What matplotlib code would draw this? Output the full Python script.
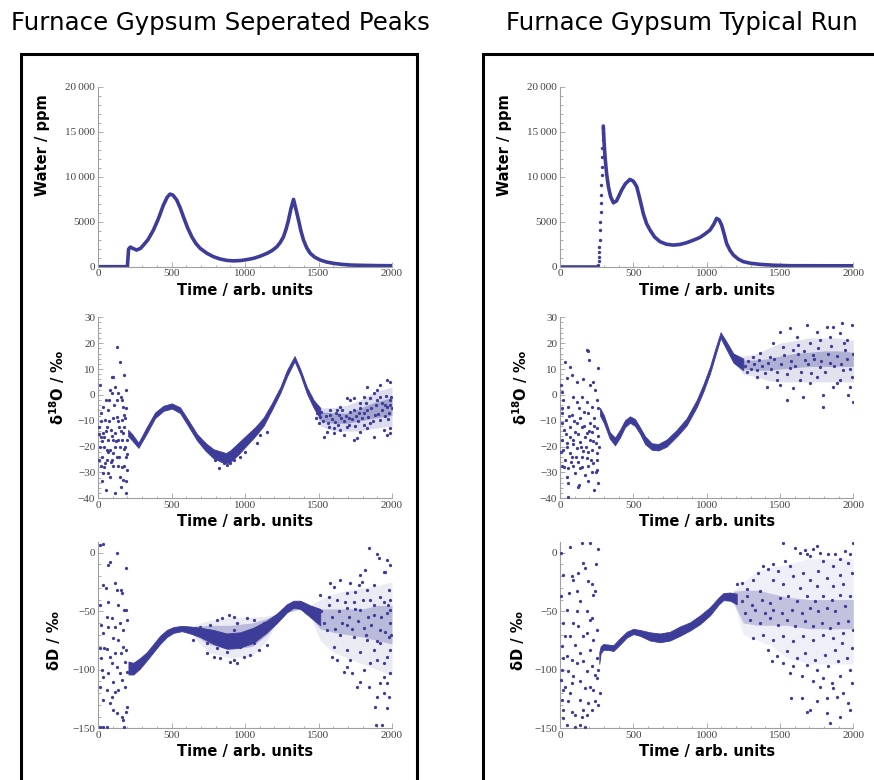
import matplotlib
matplotlib.use('Agg')
import matplotlib.pyplot as plt
from matplotlib.patches import Rectangle
from matplotlib.ticker import MultipleLocator, FuncFormatter

plt.rcParams['font.family'] = ['Liberation Serif', 'DejaVu Serif']
plt.rcParams['mathtext.fontset'] = 'dejavusans'

DOT = '#3d3d99'
AXC = '#a0a0a0'
TXT = '#444444'

titles = ["Furnace Gypsum Seperated Peaks", "Furnace Gypsum Typical Run"]
xlabel = "Time / arb. units"
ylabels = ["Water / ppm", "δ$^{\\mathbf{18}}$O / ‰", "δD / ‰"]

# ---------------- Water, separated peaks (line) ----------------
water_sep_t = [0, 200, 208, 220, 235, 263, 290, 309, 340, 377, 410, 445, 470, 490, 510,
               536, 560, 581, 610, 638, 665, 695, 740, 785, 830, 876, 920, 967, 1010,
               1058, 1100, 1149, 1185, 1217, 1240, 1262, 1280, 1296, 1312, 1330, 1345,
               1364, 1380, 1398, 1420, 1444, 1475, 1512, 1555, 1603, 1660, 1716, 1800,
               1900, 2000]
water_sep_v = [0, 0, 1950, 2180, 2050, 1850, 2050, 2400, 3000, 4070, 5300, 6850, 7700,
               8070, 7950, 7400, 6500, 5550, 4300, 3330, 2600, 2040, 1500, 1110, 860,
               700, 650, 680, 780, 930, 1150, 1480, 1800, 2220, 2700, 3330, 4200, 5190,
               6400, 7480, 6500, 5190, 4000, 2960, 2100, 1480, 1050, 740, 520, 370, 260,
               185, 150, 120, 110]

# ---------------- Water, typical run ----------------
water_typ_t = [0, 261]
water_typ_v = [0, 0]
water_rise_t = [262, 264, 266, 268, 269, 271, 273, 275, 277, 279, 280, 282, 284, 286,
                288, 289, 291, 293, 294]
water_rise_v = [185, 630, 1110, 1670, 2220, 2960, 4070, 5000, 6110, 7040, 7960, 9070,
                10190, 11110, 12220, 13150, 14070, 14810, 15370]
water_typ2_t = [295, 300, 307, 318, 330, 345, 364, 385, 400, 420, 445, 477, 500, 523,
                545, 568, 590, 614, 645, 682, 725, 773, 820, 864, 910, 955, 990, 1023,
                1048, 1068, 1085, 1102, 1120, 1136, 1160, 1182, 1215, 1250, 1300, 1364,
                1450, 1568, 1800, 2000]
water_typ2_v = [15630, 14000, 12200, 10300, 8900, 7800, 7100, 7300, 7800, 8500, 9200,
                9700, 9500, 8900, 7500, 5900, 4800, 4070, 3300, 2780, 2500, 2400, 2480,
                2670, 2950, 3260, 3650, 4070, 4700, 5370, 5200, 4630, 3600, 2590, 1800,
                1300, 850, 560, 380, 260, 170, 110, 100, 100]

# ---------------- d18O, separated peaks ----------------
o18_sep_band_t = [205, 230, 275, 331, 388, 445, 502, 558, 615, 672, 729, 785, 842, 870,
                  899, 956, 1012, 1069, 1126, 1183, 1240, 1285, 1337, 1376, 1421, 1467, 1512]
o18_sep_band_lo = [-16, -17.5, -20.5, -15, -9, -6.2, -5.3, -7, -12.2, -17.5, -21.5, -24.5,
                   -26, -26.5, -26, -23, -19.5, -16, -12, -5.8, 0.7, 7, 13, 7.8, 0.5, -5, -9]
o18_sep_band_hi = [-13.5, -15, -18.5, -12.5, -6.8, -4.2, -3.3, -4.8, -9.8, -15, -18.5, -21,
                   -22, -22.5, -21.5, -18.5, -15.5, -12.5, -8.8, -3.2, 3, 9.5, 15, 10, 3,
                   -2, -5]
o18_sep_cloud_t = [1467, 1512, 1603, 1694, 1785, 1876, 2000]
o18_sep_cloud_lo = [-5, -10, -11, -11, -10, -9, -8]
o18_sep_cloud_hi = [-2, -6.5, -7, -7, -5, -3, -1]
o18_sep_halo_lo = [-5, -12, -14, -14, -14, -13, -12]
o18_sep_halo_hi = [-2, -5, -5, -4, -2, 1, 3]
o18_sep_pts = [
    (14, 3.8), (20, -7.1), (9, -12.3), (14, -20), (25, -23.9), (18, -27.7), (27, -33.5),
    (54, -36.8), (36, -30.3), (48, -26.5), (41, -16.1), (59, -12.3), (70, -5.8), (82, 1.9),
    (77, -2), (93, 6.8), (104, 6.8), (116, 3.2), (132, 18.7), (150, 12.9), (179, 7.7),
    (191, 1.9), (138, 0.6), (127, -2), (154, -0.7), (168, -4.5), (177, -7.8), (161, -9.7),
    (104, -9.1), (86, -13.6), (116, -14.9), (138, -17.4), (150, -20), (172, -14.9),
    (195, -17.4), (184, -20), (191, -23.9), (177, -27.7), (195, -29), (172, -32.9),
    (191, -33.5), (191, -38), (116, -38), (70, -30.3), (82, -31.6), (93, -25.2),
    (104, -22.6), (127, -23.9), (138, -27.7), (150, -31.6), (154, -35.5), (59, -21.3),
    (70, -17.4), (48, -9.7), (32, -4.5), (54, -2), (93, 0.6), (161, -2), (177, -12.3),
    (116, -20), (82, -21.3), (36, -14.9), (161, -17.4), (143, -12.3), (127, -8.4),
    (100, -17.4), (64, -25.2), (104, -27.7), (41, -20), (18, -16.1),
    (5, -15), (10, -25), (22, -10), (30, -18), (44, -28), (52, -14), (66, -22), (75, -10),
    (88, -26), (96, -16), (110, -4), (122, -18), (135, -10), (145, -24), (157, -14),
    (165, -28), (175, -21), (185, -9), (198, -23), (188, -5),
    (820, -28.4), (854, -26.5), (899, -26.5), (922, -25.2), (797, -25.2), (967, -23.9),
    (1081, -18.7), (1103, -15.5), (718, -18.7), (876, -27.1), (1001, -22), (1149, -14.2),
    (1830, 3.2), (1966, 5.8), (1989, 5.1), (1920, 3.8), (1898, 1.9), (1876, 0.6),
    (1808, -0.7), (1739, -1.3), (1716, -2), (1694, -1.3), (1648, -4.5), (1626, -5.8),
    (1603, -14.9), (1557, -14.2), (1535, -16.1), (1739, -17.4), (1762, -16.8),
    (1876, -16.1), (1966, -15.5), (1989, -14.9), (1989, -12.9), (1943, -13.6),
    (1671, -15.5), (1785, -14.2), (1830, -12.9), (1853, -11), (1920, -9.7), (1978, -7.1),
    (1989, -2), (1955, -3.9), (1898, -2), (1853, -1.3), (1785, -3.3), (1739, -5.8),
    (1580, -7.8), (1512, -8.4), (1490, -7.1), (1569, -12.3), (1603, -12.9), (1648, -13.6),
    (1694, -12.3), (1808, -11.6), (1885, -7.8), (1932, -5.8), (1966, -4.5), (2000, -5.2),
    (1830, -5.8), (1773, -7.1), (1637, -7.8), (1705, -9.1),
    (1480, -9), (1500, -11), (1520, -6.5), (1530, -10), (1550, -8), (1565, -11),
    (1575, -6), (1590, -9.5), (1610, -10.5), (1620, -7), (1635, -11.5), (1650, -9),
    (1660, -6), (1675, -10), (1690, -8), (1705, -11.5), (1715, -6.5), (1730, -9.5),
    (1745, -12), (1755, -8), (1770, -10), (1780, -5), (1795, -9), (1810, -7), (1820, -3),
    (1840, -8.5), (1860, -5), (1870, -10), (1890, -4), (1905, -7.5), (1915, -1),
    (1935, -3), (1950, -8), (1960, -0.5), (1975, -9.5), (1985, -4), (1995, -1),
]

# ---------------- d18O, typical run ----------------
o18_typ_band_t = [273, 300, 340, 375, 409, 443, 477, 511, 545, 580, 625, 670, 727, 795,
                  864, 932, 977, 1023, 1057, 1095, 1136, 1182, 1250]
o18_typ_band_lo = [-8, -11, -17, -19.5, -16.5, -12.5, -10.8, -12, -15, -19, -21.2, -21.5,
                   -20, -16.2, -11.8, -4.8, 1.2, 8.3, 14.8, 22, 17.5, 12.5, 9.5]
o18_typ_band_hi = [-5, -8, -14.5, -16.5, -13.5, -9.8, -8.3, -9.3, -12.5, -16, -18.7, -19,
                   -17.3, -13.6, -9, -2, 4, 11, 17.5, 24.2, 20.5, 16, 14]
o18_typ_cloud_t = [1182, 1250, 1341, 1420, 1500, 1600, 1700, 1800, 1900, 2000]
o18_typ_cloud_lo = [12.5, 10, 9.5, 9.5, 10, 10.5, 11, 11, 11, 11]
o18_typ_cloud_hi = [16, 13.5, 13.5, 14, 15, 16, 16.5, 17, 17, 16.5]
o18_typ_halo_lo = [12.5, 8, 7, 5.5, 5, 5, 5, 5, 5, 5]
o18_typ_halo_hi = [16, 15, 16, 18, 20, 21, 22, 22, 22, 21]
o18_typ_pts = [
    (5, 3.8), (11, 1.3), (34, 12.9), (68, 10.9), (45, 6.4), (114, 5.1), (80, 7.7),
    (182, 17.4), (193, 16.8), (200, 13.5), (159, 6), (227, 5.1), (261, 10.3), (239, 1.9),
    (205, 3.8), (148, -0.7), (91, -0.7), (23, -2), (57, -4.5), (114, -2.6), (182, -2.6),
    (216, -4.5), (250, -2), (261, -5.2), (11, -7.1), (41, -9.7), (80, -7.8), (136, -9.1),
    (193, -7.1), (232, -9.1), (27, -13.6), (68, -12.3), (102, -14.2), (148, -12.3),
    (182, -14.9), (216, -14.2), (250, -12.9), (11, -17.4), (45, -18.7), (91, -17.4),
    (136, -18.1), (170, -16.1), (205, -17.4), (245, -18.7), (23, -21.3), (68, -22.6),
    (114, -20.7), (159, -21.9), (216, -21.3), (34, -25.2), (80, -23.9), (125, -25.8),
    (182, -24.5), (227, -26.5), (11, -27.7), (57, -28.4), (136, -28.4), (193, -27.7),
    (250, -29), (45, -31.6), (102, -30.3), (170, -31), (216, -29.7), (57, -34.2),
    (132, -34.8), (193, -33.5), (261, -34.2), (232, -36.8), (57, -39.6), (125, -35.5),
    (91, -27.7), (148, -23.9), (68, -16.1), (118, -11), (205, -11), (164, -6.5), (11, -11),
    (250, -22.6), (255, -25.2),
    (8, -22), (16, -5), (30, -28), (38, -15), (50, -20), (62, -8), (74, -26), (86, -19),
    (98, -10), (108, -24), (120, -15), (130, -5), (142, -20), (153, -28), (165, -12),
    (176, -20), (188, -22), (198, -14), (210, -25), (222, -18), (234, -12), (244, -30),
    (256, -16), (266, -20),
    (1500, 24.5), (1568, 25.7), (1682, 27), (1864, 26.4), (1920, 27.7), (1818, 26.4),
    (1989, 27), (1750, 24.5), (1614, 22.5), (1909, 23.8), (1773, 21.2), (1545, -2),
    (1659, -0.7), (1795, 0), (1795, -4.5), (2000, -2.6), (1966, 0), (1364, 16.1),
    (1455, 19.9), (1591, 17.4), (1409, 3.2), (1500, 3.8), (1591, 2.5), (1705, 4.5),
    (1864, 3.2), (1977, 3.2), (1886, 4.5), (1750, 7), (1636, 5.8), (1477, 5.8), (1341, 7),
    (1273, 9), (1318, 14.8), (1432, 14.8), (1523, 18.7), (1705, 19.9), (1841, 22.5),
    (1955, 21.2), (1943, 17.4), (1670, 13.5), (1841, 12.2), (1773, 10.9), (1568, 10.3),
    (1932, 9.6), (1909, 5.8), (1989, 7), (1727, 15.4), (1625, 19.3),
    (1260, 11), (1280, 13), (1300, 10), (1320, 12), (1345, 9.5), (1360, 13.5), (1380, 11),
    (1400, 8.5), (1415, 12.5), (1440, 10), (1460, 14), (1480, 9), (1510, 12),
    (1530, 15.5), (1550, 8), (1575, 13), (1600, 11), (1620, 16), (1645, 9), (1665, 17),
    (1690, 12), (1710, 8.5), (1735, 14), (1760, 18), (1780, 13), (1805, 9), (1825, 16),
    (1850, 19), (1870, 11), (1890, 15), (1915, 12), (1935, 20), (1960, 14), (1980, 10),
    (1995, 16),
]

# ---------------- dD, separated peaks ----------------
dd_sep_band_t = [207, 241, 286, 332, 377, 422, 468, 513, 570, 627, 695, 786, 876, 967,
                 1058, 1149, 1217, 1285, 1330, 1376, 1444, 1512]
dd_sep_band_lo = [-104, -104, -99, -92, -85, -78, -72, -68.5, -67, -69, -72, -78, -82, -81,
                  -77, -68, -60, -51, -47, -48, -55, -62]
dd_sep_band_hi = [-93, -94, -90, -85, -78, -71, -66, -63.5, -62.5, -63, -64, -66, -69, -68,
                  -64, -58, -52, -44, -41, -41, -45, -48]
dd_sep_cloud_t = [650, 750, 900, 1050, 1150, 1217, 1285, 1376, 1444, 1512, 1600, 1700,
                  1800, 1900, 2000]
dd_sep_cloud_lo = [-70, -78, -83, -80, -70, -60, -51, -48, -55, -65, -68, -70, -72, -75, -78]
dd_sep_cloud_hi = [-63, -62, -62, -60, -56, -52, -44, -41, -45, -48, -48, -48, -48, -45, -45]
dd_sep_halo_lo = [-72, -85, -90, -88, -75, -60, -51, -48, -55, -75, -85, -90, -95, -100,
                  -105]
dd_sep_halo_hi = [-62, -58, -55, -55, -54, -52, -44, -41, -45, -40, -35, -32, -30, -28, -25]
dd_sep_pts = [
    (14, 6.5), (32, 7.4), (70, -10.5), (82, -7.7), (132, 0), (191, -13.4), (36, -27.6),
    (54, -30.5), (116, -26.2), (127, -31.9), (154, -31.9), (161, -34.7), (70, -41.8),
    (14, -44.7), (138, -44.7), (177, -49), (191, -49), (59, -54.6), (93, -56.1),
    (150, -60.3), (195, -57.5), (18, -61.8), (116, -63.2), (70, -63.2), (168, -66),
    (36, -68.9), (104, -73.1), (138, -74.6), (14, -81.7), (43, -81.7), (63, -82.5),
    (172, -80.3), (191, -83.1), (154, -85.9), (18, -90.2), (82, -88.8), (116, -85.9),
    (184, -93.1), (25, -100.2), (93, -94.5), (127, -97.3), (150, -103), (195, -101.6),
    (36, -105.9), (70, -103), (104, -110.1), (161, -108.7), (14, -114.4), (59, -117.3),
    (116, -118.7), (138, -117.3), (184, -114.4), (36, -125.8), (82, -128.6), (104, -134.3),
    (127, -137.2), (161, -140), (172, -142.9), (191, -135.8), (14, -148.6), (36, -149.1),
    (63, -149.1), (177, -148.6), (195, -131.5), (93, -122.9),
    (809, -57.5), (843, -56.1), (888, -53.2), (922, -54.6), (1012, -56.1), (945, -60.3),
    (763, -61.8), (695, -63.2), (1126, -60.3), (1058, -57.5), (740, -85.9), (786, -88.8),
    (831, -90.2), (922, -91.6), (945, -94.5), (899, -93.1), (990, -88.8), (1035, -87.4),
    (1092, -83.1), (1149, -78.8), (876, -84.5), (740, -77.4), (649, -74.6), (967, -80.3),
    (809, -81.7), (922, -66), (1012, -68.9), (1058, -77.4), (899, -76),
    (1841, 3.7), (1898, -1.1), (1910, -4.8), (1966, -6.3), (1989, -10.5), (1943, -16.2),
    (1955, -16.2), (1818, -14.8), (1780, -19.1), (1580, -26.2), (1648, -23.3),
    (1716, -26.2), (1773, -27.6), (1876, -27.6), (1750, -33.3), (1512, -36.1),
    (1603, -29), (1694, -34.7), (1830, -31.9), (1978, -31.9), (1920, -37.6), (1569, -37.6),
    (1989, -40.4), (1989, -49), (1989, -60.3), (1978, -71.7), (1989, -83.1), (1966, -88.8),
    (1989, -103), (1943, -105.9), (1920, -111.6), (1966, -111.6), (1978, -122.9),
    (1943, -120.1), (1898, -122.9), (1887, -131.5), (1966, -132.9), (1892, -147.1),
    (1932, -147.1), (1841, -114.4), (1785, -110.1), (1762, -114.4), (1694, -97.3),
    (1671, -101.6), (1728, -103), (1808, -100.2), (1592, -88.8), (1626, -91.6),
    (1716, -91.6), (1853, -94.5), (1898, -91.6), (1943, -94.5), (1603, -80.3),
    (1694, -83.1), (1785, -84.5), (1876, -83.1), (1920, -77.4), (1830, -74.6),
    (1739, -71.7), (1648, -70.3), (1557, -66), (1920, -66), (1808, -64.6), (1694, -61.8),
    (1966, -51.8), (1876, -53.2), (1785, -49), (1694, -47.5), (1943, -41.8), (1853, -40.4),
    (1739, -41.8), (1626, -40.4), (1796, -24.8),
    (1480, -55), (1520, -50), (1540, -60), (1570, -45), (1590, -55), (1615, -65),
    (1640, -50), (1660, -60), (1680, -42), (1710, -55), (1730, -65), (1750, -48),
    (1770, -58), (1800, -40), (1820, -70), (1840, -55), (1860, -62), (1880, -45),
    (1900, -75), (1925, -55), (1950, -68), (1970, -45), (1990, -70),
]

# ---------------- dD, typical run ----------------
dd_typ_band_t = [268, 277, 295, 330, 364, 409, 455, 500, 545, 614, 682, 750, 818, 886,
                 955, 1023, 1080, 1114, 1159, 1205]
dd_typ_band_lo = [-95, -86, -83, -83, -84, -78.5, -72.5, -69.5, -71, -75, -76.5, -75, -71,
                  -66.5, -61, -53.5, -44.5, -40.5, -41, -44]
dd_typ_band_hi = [-85, -80, -78, -78.5, -79, -73, -67.5, -65, -66, -68, -69, -67.5, -63,
                  -59.5, -53.5, -46.5, -38.5, -34.5, -34, -35]
dd_typ_cloud_t = [1180, 1250, 1350, 1450, 1550, 1700, 1850, 2000]
dd_typ_cloud_lo = [-42, -60, -62, -62, -62, -65, -65, -65]
dd_typ_cloud_hi = [-33, -32, -32, -35, -38, -40, -40, -40]
dd_typ_halo_lo = [-42, -70, -75, -80, -90, -95, -95, -95]
dd_typ_halo_hi = [-33, -25, -15, -12, -10, -5, -5, -5]
dd_typ_pts = [
    (5, 0), (68, 5.1), (148, 8.6), (205, 8.6), (261, 2.9), (245, -10), (159, -8.6),
    (170, -12.9), (23, -18.6), (80, -20), (91, -22.9), (125, -17.1), (193, -24.3),
    (216, -27.1), (239, -32.9), (227, -35.7), (5, -37.1), (61, -34.3), (114, -32.9),
    (136, -41.4), (45, -48.6), (114, -50), (182, -50), (216, -55.7), (205, -57.1),
    (250, -65.7), (125, -62.9), (91, -60), (23, -60), (34, -71.4), (68, -71.4),
    (159, -71.4), (182, -68.6), (227, -74.3), (11, -80), (45, -88.6), (102, -78.6),
    (136, -85.7), (205, -82.9), (250, -90), (18, -90), (80, -91.4), (114, -94.3),
    (159, -92.9), (216, -97.1), (11, -100), (57, -101.4), (91, -105.7), (182, -101.4),
    (239, -104.3), (261, -100), (5, -108.6), (34, -114.3), (80, -111.4), (136, -110),
    (205, -114.3), (250, -107.1), (18, -117.1), (68, -120), (170, -115.7), (227, -117.1),
    (11, -125.7), (57, -127.1), (136, -125.7), (193, -128.6), (239, -127.1), (261, -130),
    (23, -134.3), (80, -135.7), (159, -134.3), (216, -134.3), (18, -141.4), (102, -138.6),
    (148, -140), (182, -138.6), (45, -147.1), (102, -148.6), (136, -147.1), (170, -149.1),
    (273, -120),
    (1205, -27.1), (1239, -25.7), (1273, -31.4), (1318, -22.9), (1352, -17.1),
    (1386, -11.4), (1420, -14.3), (1455, -10), (1489, -15.7), (1523, 8), (1534, -7.1),
    (1568, -11.4), (1602, 4.3), (1636, 0), (1670, 2.3), (1682, -1.4), (1705, -2.9),
    (1727, 2.9), (1750, 5.7), (1773, 0), (1795, -7.1), (1830, -1.4), (1875, -1.4),
    (1909, -5.7), (1943, 1.4), (1977, -1.4), (1995, 8.6), (1966, -8.6), (1864, -11.4),
    (1761, -15.7), (1659, -17.1), (1591, -20), (1455, -22.9), (1705, -22.9),
    (1818, -21.4), (1909, -18.6), (1989, -17.1), (1932, -27.1), (1864, -28.6),
    (1750, -28.6), (1636, -30), (1523, -27.1), (1364, -32.9), (1273, -37.1),
    (1239, -41.4), (1307, -44.3), (1375, -40), (1432, -42.9), (1500, -38.6),
    (1557, -37.1), (1614, -41.4), (1682, -37.1), (1739, -41.4), (1795, -37.1),
    (1852, -40), (1909, -35.7), (1977, -37.1), (1943, -45.7), (1875, -50), (1818, -47.1),
    (1761, -50), (1705, -47.1), (1648, -51.4), (1580, -48.6), (1511, -51.4),
    (1455, -48.6), (1398, -51.4), (1330, -48.6), (1261, -51.4), (1295, -57.1),
    (1364, -60), (1432, -55.7), (1489, -61.4), (1545, -57.1), (1602, -62.9),
    (1670, -58.6), (1727, -62.9), (1784, -60), (1841, -64.3), (1898, -60), (1966, -58.6),
    (1995, -65.7), (1932, -68.6), (1864, -72.9), (1795, -70), (1727, -74.3),
    (1659, -71.4), (1591, -75.7), (1523, -71.4), (1455, -74.3), (1386, -70),
    (1318, -72.9), (1420, -82.9), (1477, -88.6), (1545, -84.3), (1614, -90),
    (1670, -85.7), (1739, -91.4), (1807, -87.1), (1875, -82.9), (1920, -77.1),
    (1989, -81.4), (1955, -90), (1898, -92.9), (1830, -97.1), (1750, -100),
    (1682, -95.7), (1591, -97.1), (1523, -94.3), (1443, -92.9), (1568, -102.9),
    (1648, -105.7), (1727, -110), (1795, -107.1), (1852, -111.4), (1909, -105.7),
    (1977, -100), (1989, -111.4), (1864, -115.7), (1773, -114.3), (1932, -120),
    (1886, -122.9), (1818, -124.3), (1966, -128.6), (1573, -124.3), (1648, -124.3),
    (1682, -135.7), (1705, -134.3), (1750, -127.1), (1818, -137.1), (1841, -145.7),
    (1909, -140), (1977, -134.3),
]

# ---------------- figure ----------------
W, H = 874, 780
fig = plt.figure(figsize=(W / 100, H / 100), dpi=100)


def rect(x0, x1, ytop, ybot):
    return [x0 / W, 1 - ybot / H, (x1 - x0) / W, (ybot - ytop) / H]


col_x = [(98, 392), (560, 853.3)]
rows = [(86.7, 266.7), (317.3, 498.3), (542.2, 728.3)]
ylims = [(0, 20000), (-40, 30), (-150, 9)]
ymaj = [5000, 10, 50]
ymin = [1000, 2, 10]
ylab_off = [[56, 41, 43], [55, 40, 41]]
ylab_frac = [0.676, 0.615, 0.47]


def fmt(v, pos):
    iv = int(round(v))
    s = str(abs(iv))
    if abs(iv) >= 10000:
        s = s[:-3] + '\u2009' + s[-3:]
    return ('\u2212' + s) if iv < 0 else s


axes = {}
for c in range(2):
    for r in range(3):
        x0, x1 = col_x[c]
        yt, yb = rows[r]
        ax = fig.add_axes(rect(x0, x1, yt, yb))
        ax.set_xlim(0, 2000)
        ax.set_ylim(*ylims[r])
        for s in ['top', 'right']:
            ax.spines[s].set_visible(False)
        for s in ['left', 'bottom']:
            ax.spines[s].set_color(AXC)
            ax.spines[s].set_linewidth(0.8)
        ax.xaxis.set_major_locator(MultipleLocator(500))
        ax.xaxis.set_minor_locator(MultipleLocator(100))
        ax.yaxis.set_major_locator(MultipleLocator(ymaj[r]))
        ax.yaxis.set_minor_locator(MultipleLocator(ymin[r]))
        ax.xaxis.set_major_formatter(FuncFormatter(fmt))
        ax.yaxis.set_major_formatter(FuncFormatter(fmt))
        ax.tick_params(which='both', direction='in', color=AXC, labelcolor=TXT,
                       labelsize=8, pad=2, width=0.6)
        ax.tick_params(which='major', length=3.5)
        ax.tick_params(which='minor', length=1.8)
        ax.set_xlabel(xlabel, family='DejaVu Sans', fontweight='bold', fontsize=10.5,
                      color='black')
        ax.xaxis.set_label_coords(0.5, -23.5 / (yb - yt))
        ax.xaxis.label.set_va('center')
        ax.set_ylabel(ylabels[r], family='DejaVu Sans', fontweight='bold', fontsize=10.5,
                      color='black')
        ax.yaxis.set_label_coords(-ylab_off[c][r] / (x1 - x0), ylab_frac[r])
        ax.yaxis.label.set_va('center')
        axes[(c, r)] = ax

# Water panels
ax = axes[(0, 0)]
ax.plot(water_sep_t, water_sep_v, color=DOT, lw=2.6, solid_joinstyle='round',
        solid_capstyle='round')
ax = axes[(1, 0)]
ax.plot(water_typ_t, water_typ_v, color=DOT, lw=2.6, solid_capstyle='round')
ax.scatter(water_rise_t, water_rise_v, s=6, color=DOT, linewidths=0)
ax.plot(water_typ2_t, water_typ2_v, color=DOT, lw=2.6, solid_joinstyle='round',
        solid_capstyle='round')


def scatter_panel(ax, bt, blo, bhi, ct, clo, chi, hlo, hhi, pts, ca, ha):
    ax.fill_between(ct, hlo, hhi, color=DOT, lw=0, alpha=ha)
    ax.fill_between(ct, clo, chi, color=DOT, lw=0, alpha=ca)
    ax.fill_between(bt, blo, bhi, color=DOT, lw=0.6, edgecolor=DOT)
    xs = [p[0] for p in pts]
    ys = [p[1] for p in pts]
    ax.scatter(xs, ys, s=5.5, color=DOT, linewidths=0, zorder=3)


scatter_panel(axes[(0, 1)], o18_sep_band_t, o18_sep_band_lo, o18_sep_band_hi,
              o18_sep_cloud_t, o18_sep_cloud_lo, o18_sep_cloud_hi,
              o18_sep_halo_lo, o18_sep_halo_hi, o18_sep_pts, 0.35, 0.18)
scatter_panel(axes[(1, 1)], o18_typ_band_t, o18_typ_band_lo, o18_typ_band_hi,
              o18_typ_cloud_t, o18_typ_cloud_lo, o18_typ_cloud_hi,
              o18_typ_halo_lo, o18_typ_halo_hi, o18_typ_pts, 0.3, 0.15)
scatter_panel(axes[(0, 2)], dd_sep_band_t, dd_sep_band_lo, dd_sep_band_hi,
              dd_sep_cloud_t, dd_sep_cloud_lo, dd_sep_cloud_hi,
              dd_sep_halo_lo, dd_sep_halo_hi, dd_sep_pts, 0.28, 0.1)
scatter_panel(axes[(1, 2)], dd_typ_band_t, dd_typ_band_lo, dd_typ_band_hi,
              dd_typ_cloud_t, dd_typ_cloud_lo, dd_typ_cloud_hi,
              dd_typ_halo_lo, dd_typ_halo_hi, dd_typ_pts, 0.25, 0.08)

# Frames and titles
fig.add_artist(Rectangle((21 / W, -0.05), (417 - 21) / W, 1 - 54 / H + 0.05,
                         transform=fig.transFigure, fill=False, lw=2.2,
                         edgecolor='black'))
fig.add_artist(Rectangle((483 / W, -0.05), 0.5, 1 - 54 / H + 0.05,
                         transform=fig.transFigure, fill=False, lw=2.2,
                         edgecolor='black'))
fig.text(220 / W, 1 - 23 / H, titles[0], family='DejaVu Sans', fontsize=17.6,
         ha='center', va='center', color='black')
fig.text(682 / W, 1 - 23 / H, titles[1], family='DejaVu Sans', fontsize=17.6,
         ha='center', va='center', color='black')

fig.savefig('out.png', dpi=100, facecolor='white')
